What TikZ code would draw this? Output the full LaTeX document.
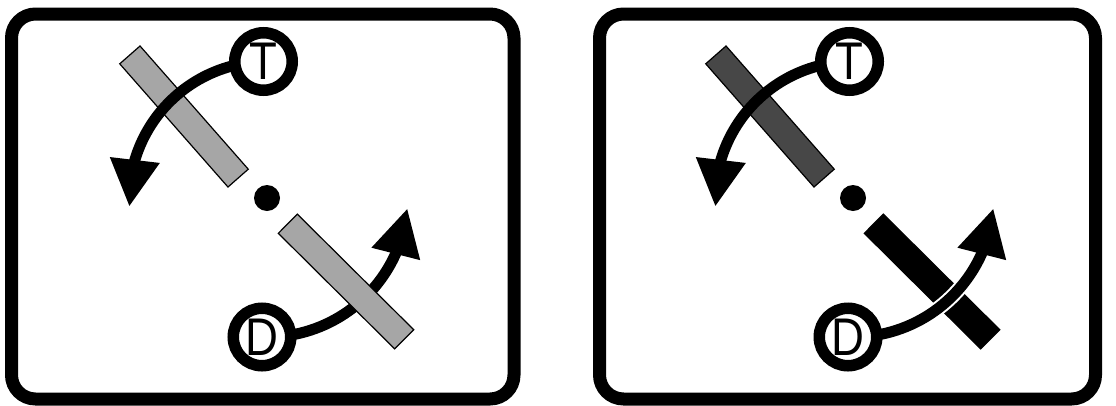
\documentclass[tikz,border=0pt]{standalone}
\usepackage{fontspec}
\usepackage{graphicx}
\newfontfamily\labfont{Liberation Sans}
\usetikzlibrary{arrows.meta,bending}
\pgfdeclarelayer{back}
\pgfsetlayers{back,main}
\newcommand{\narrowlab}[1]{\scalebox{0.86}[1]{#1}}
\begin{document}
\begin{tikzpicture}[x=1pt,y=1pt,
  frame/.style={line width=13pt, rounded corners=24pt},
  ring/.style={circle, draw, fill=white, line width=11.5pt, minimum size=57.5pt, inner sep=0pt, font=\labfont\fontsize{53}{53}\selectfont},
  pivot/.style={circle, fill=black, minimum size=26pt, inner sep=0pt},
  bar/.style={rectangle, draw, line width=1.2pt, minimum width=164pt, minimum height=27pt, inner sep=0pt},
  turn/.style={line width=11pt, -{Triangle[length=47pt,width=47pt,flex]}},
  casing/.style={line width=15pt, white},
]
\useasboundingbox (0,0) rectangle (1116,-405);
% left panel
\draw[frame] (11.5,-14) rectangle (514,-399);
\node[ring] (T1) at (263.5,-61.5) {\narrowlab{T}};
\node[ring] (D1) at (262,-337) {\narrowlab{D}};
\node[pivot] (P1) at (267,-198) {};
\begin{pgfonlayer}{back}
  \node[bar, fill=black!35, rotate=-48.7] (B1) at (184,-116.5) {};
  \draw[turn] (T1.center) arc[start angle=91.5, end angle=183, radius=138];
  \draw[turn] (D1.center) arc[start angle=268, end angle=355, radius=141];
  \node[bar, fill=black!35, rotate=-44.8] (B2) at (346,-281.5) {};
\end{pgfonlayer}
% right panel
\draw[frame] (599.5,-14) rectangle (1095.5,-399);
\node[ring] (T2) at (849.5,-61.5) {\narrowlab{T}};
\node[ring] (D2) at (848,-337) {\narrowlab{D}};
\node[pivot] (P2) at (853,-198) {};
\begin{pgfonlayer}{back}
  \node[bar, fill=black!72, rotate=-48.7] (B3) at (770,-116.5) {};
  \node[bar, fill=black, rotate=-44.8] (B4) at (932,-281.5) {};
  \draw[turn] (T2.center) arc[start angle=91.5, end angle=183, radius=138];
  \draw[casing] (D2.center) arc[start angle=268, end angle=335, radius=141];
  \draw[turn] (D2.center) arc[start angle=268, end angle=355, radius=141];
\end{pgfonlayer}
\end{tikzpicture}
\end{document}
